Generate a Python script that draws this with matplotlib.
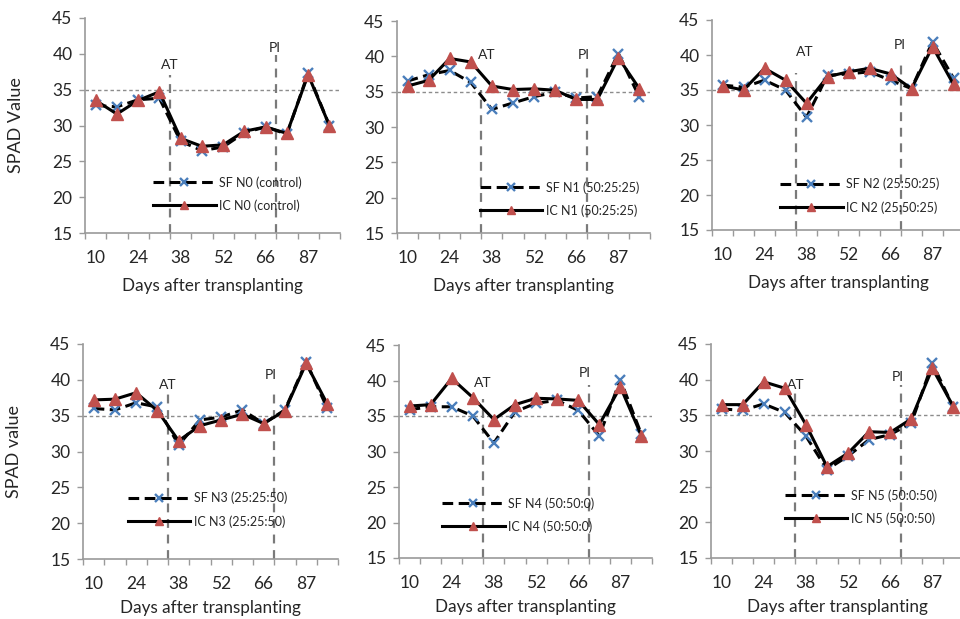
import matplotlib
matplotlib.use("Agg")
import matplotlib.pyplot as plt

plt.rcParams['font.family'] = ['Lato', 'DejaVu Sans']

days = ["10", "17", "24", "31", "38", "45", "52", "59", "66", "73", "87", "94"]
shown_days = ["10", "24", "38", "52", "66", "87"]

treatments = ["N0 (control)", "N1 (50:25:25)", "N2 (25:50:25)",
              "N3 (25:25:50)", "N4 (50:50:0)", "N5 (50:0:50)"]

sf_n0 = [32.8, 32.6, 33.6, 33.8, 27.8, 26.5, 27.0, 29.0, 29.8, 28.8, 37.3, 30.0]
ic_n0 = [33.5, 31.6, 33.5, 34.7, 28.2, 27.1, 27.3, 29.2, 29.8, 28.9, 37.1, 30.0]

sf_n1 = [36.5, 37.4, 38.0, 36.3, 32.5, 33.4, 34.3, 34.9, 34.1, 34.3, 40.4, 34.2]
ic_n1 = [35.8, 36.6, 39.7, 39.2, 35.8, 35.3, 35.4, 35.2, 33.9, 33.9, 39.8, 35.4]

sf_n2 = [35.7, 35.4, 36.4, 35.0, 31.1, 37.1, 37.3, 37.6, 36.4, 35.2, 41.9, 36.7]
ic_n2 = [35.6, 35.0, 38.1, 36.4, 33.1, 36.9, 37.6, 38.1, 37.3, 35.2, 41.2, 35.8]

sf_n3 = [36.0, 35.8, 36.8, 36.2, 30.9, 34.4, 34.8, 35.8, 33.9, 35.8, 42.5, 36.0]
ic_n3 = [37.2, 37.3, 38.2, 35.7, 31.5, 33.6, 34.4, 35.2, 33.9, 35.7, 42.3, 36.6]

sf_n4 = [35.9, 36.3, 36.3, 35.0, 31.2, 35.6, 36.8, 37.2, 35.8, 32.2, 40.1, 32.4]
ic_n4 = [36.4, 36.6, 40.3, 37.6, 34.5, 36.6, 37.5, 37.4, 37.2, 33.8, 39.1, 32.2]

sf_n5 = [35.9, 35.7, 36.6, 35.4, 32.1, 27.4, 29.3, 31.6, 32.3, 33.9, 42.3, 36.1]
ic_n5 = [36.5, 36.5, 39.7, 38.8, 33.7, 27.8, 29.7, 32.7, 32.6, 34.5, 41.6, 36.2]

sf_all = [sf_n0, sf_n1, sf_n2, sf_n3, sf_n4, sf_n5]
ic_all = [ic_n0, ic_n1, ic_n2, ic_n3, ic_n4, ic_n5]

threshold = 35
at_pos = 3.5
pi_pos = 8.5

W, H = 960, 619
fig = plt.figure(figsize=(W / 100, H / 100), dpi=100)

# (left px, right px, top px (y=45), bottom px (y=15))
boxes = [(85, 340, 18, 233), (397, 650, 21, 233), (712, 964, 20, 230),
         (83, 338, 344, 559), (399, 652, 345, 558), (711, 964, 344, 558)]
legend_anchor = [(0.267, 0.265), (0.328, 0.245), (0.27, 0.248),
                 (0.176, 0.312), (0.17, 0.286), (0.292, 0.322)]
# (AT line top, AT text x, AT text y, PI line top, PI text x, PI text y)
annot = [(37.0, 3.5, 38.4, 39.8, 8.44, 40.8),
         (35.3, 3.77, 40.2, 39.2, 8.37, 40.2),
         (37.4, 3.93, 40.4, 39.3, 8.45, 41.4),
         (38.3, 3.5, 39.3, 38.9, 8.35, 40.7),
         (37.4, 3.48, 39.6, 39.4, 8.32, 41.1),
         (38.6, 3.53, 39.3, 39.3, 8.35, 40.4)]
ylabels = ["SPAD Value", None, None, "SPAD value", None, None]
xlabel_pads = [9, 9, 9, 6, 6, 6]

spine_col = "#9a9a9a"
text_col = "#262626"
x = list(range(len(days)))

for i, (l, r, t, b) in enumerate(boxes):
    ax = fig.add_axes([l / W, 1 - b / H, (r - l) / W, (b - t) / H])
    ax.set_xlim(-0.5, len(days) - 0.5)
    ax.set_ylim(15, 45)

    ax.axhline(threshold, color="#8c8c8c", lw=1.0, ls=(0, (2.5, 2)), zorder=1)
    a_top, a_tx, a_ty, p_top, p_tx, p_ty = annot[i]
    ax.plot([at_pos, at_pos], [15, a_top], color="#7a7a7a", lw=1.6,
            ls=(0, (4, 3)), zorder=1.5)
    ax.plot([pi_pos, pi_pos], [15, p_top], color="#7a7a7a", lw=1.6,
            ls=(0, (4, 3)), zorder=1.5)
    ax.text(a_tx, a_ty, "AT", ha="center", va="center", fontsize=10,
            color=text_col)
    ax.text(p_tx, p_ty, "PI", ha="center", va="center", fontsize=10,
            color=text_col)

    name = treatments[i]
    ax.plot(x, sf_all[i], color="black", lw=2.2, ls=(0, (3.5, 1.8)),
            marker="x", ms=7, mew=1.7, mec="#4a7ebb", mfc="#4a7ebb",
            label="SF " + name, zorder=3)
    ax.plot(x, ic_all[i], color="black", lw=2.2, ls="-",
            marker="^", ms=8.5, mec="#c0504d", mfc="#c0504d",
            label="IC " + name, zorder=4)

    leg = ax.legend(loc="upper left", bbox_to_anchor=legend_anchor[i],
                    frameon=False, fontsize=9, handlelength=5.0,
                    handletextpad=0.3, labelspacing=0.85, borderpad=0,
                    borderaxespad=0, markerscale=0.75)
    for txt in leg.get_texts():
        txt.set_color(text_col)

    for s in ["top", "right"]:
        ax.spines[s].set_visible(False)
    for s in ["left", "bottom"]:
        ax.spines[s].set_color(spine_col)
        ax.spines[s].set_linewidth(1.2)

    ax.set_yticks([15, 20, 25, 30, 35, 40, 45])
    ax.tick_params(axis="y", direction="out", length=4, width=1,
                   color=spine_col, labelsize=12.5, labelcolor=text_col, pad=5)
    ax.set_xticks([k - 0.5 for k in range(len(days) + 1)])
    ax.set_xticklabels([])
    ax.tick_params(axis="x", which="major", direction="out", length=4,
                   width=1, color=spine_col)
    ax.set_xticks([days.index(d) for d in shown_days], minor=True)
    ax.set_xticklabels(shown_days, minor=True)
    ax.tick_params(axis="x", which="minor", length=0, labelsize=12.5,
                   labelcolor=text_col, pad=12)

    ax.set_xlabel("Days after transplanting", fontsize=12.3, color=text_col,
                  labelpad=xlabel_pads[i])
    if ylabels[i]:
        ax.set_ylabel(ylabels[i], fontsize=13, color=text_col, labelpad=20)

fig.savefig("out.png", dpi=100)
